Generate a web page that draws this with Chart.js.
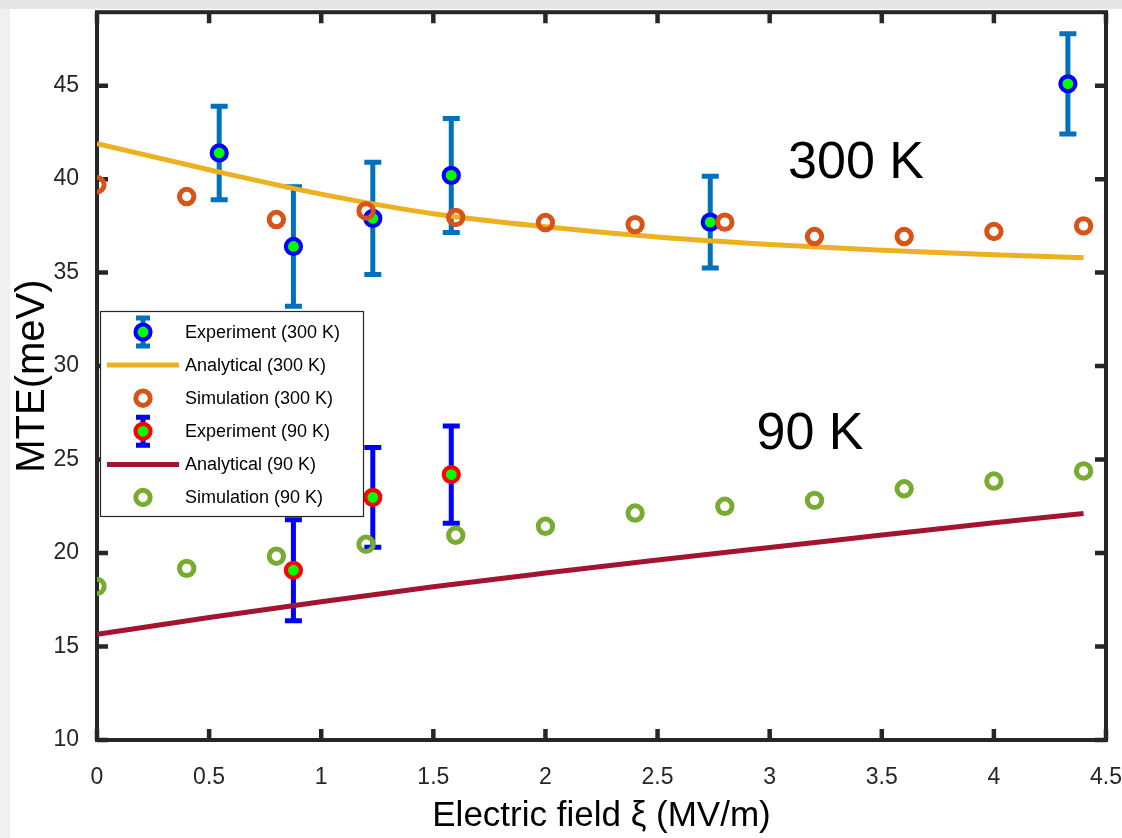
<!DOCTYPE html>
<html>
<head>
<meta charset="utf-8">
<script src="https://cdn.jsdelivr.net/npm/chart.js@4.4.1/dist/chart.umd.min.js"></script>
<style>
html,body{margin:0;padding:0;background:#fff;}
canvas{display:block;}
</style>
</head>
<body>
<canvas id="c" width="1122" height="838"></canvas>
<script>
// ---------- data ----------
const fieldExp300 = [0.545, 0.876, 1.23, 1.58, 2.735, 4.33];
const mteExp300   = [41.4, 36.4, 37.9, 40.2, 37.7, 45.1];
const errExp300   = [2.5, 3.2, 3.0, 3.05, 2.45, 2.68];

const fieldAnalytical  = [0, 0.5, 1, 1.5, 2, 2.5, 3, 3.5, 4, 4.4];
const mteAnalytical300 = [41.9, 40.5, 39.2, 38.15, 37.45, 36.9, 36.5, 36.2, 35.95, 35.8];
const mteAnalytical90  = [15.65, 16.55, 17.4, 18.2, 18.93, 19.63, 20.3, 20.96, 21.62, 22.12];

const fieldSim  = [0, 0.4, 0.8, 1.2, 1.6, 2.0, 2.4, 2.8, 3.2, 3.6, 4.0, 4.4];
const mteSim300 = [39.7, 39.07, 37.84, 38.3, 37.95, 37.68, 37.57, 37.7, 36.93, 36.93, 37.2, 37.5];
const mteSim90  = [18.22, 19.18, 19.83, 20.47, 20.95, 21.43, 22.14, 22.5, 22.82, 23.44, 23.85, 24.39];

const fieldExp90 = [0.876, 1.23, 1.58];
const mteExp90   = [19.08, 22.98, 24.2];
const errExp90   = [2.7, 2.67, 2.6];

const xTickValues = [0, 0.5, 1, 1.5, 2, 2.5, 3, 3.5, 4, 4.5];
const yTickValues = [10, 15, 20, 25, 30, 35, 40, 45];

const seriesLabels = ['Experiment (300 K)', 'Analytical (300 K)', 'Simulation (300 K)',
                      'Experiment (90 K)', 'Analytical (90 K)', 'Simulation (90 K)'];
const annotations = [{text: '300 K', x: 3.385, y: 40.85}, {text: '90 K', x: 3.18, y: 26.35}];

// ---------- helpers ----------
const pts = (xs, ys) => xs.map((x, i) => ({x: x, y: ys[i]}));
const FONT = '"Liberation Sans", Arial, Helvetica, sans-serif';
const AXIS_COLOR = '#262626';

const C = {
  exp300Bar: '#0072BD', exp90Bar: '#0000FF',
  expFill: '#00FF00', exp300Edge: '#0000FF', exp90Edge: '#FF0000',
  ana300: '#EDB120', sim300: '#D95319', ana90: '#A2142F', sim90: '#77AC30'
};

function drawErrorBar(ctx, x, yTop, yBot, capHalf, width, color) {
  ctx.save();
  ctx.strokeStyle = color;
  ctx.lineWidth = width;
  ctx.lineCap = 'butt';
  ctx.beginPath();
  ctx.moveTo(x, yTop); ctx.lineTo(x, yBot);
  ctx.moveTo(x - capHalf, yTop); ctx.lineTo(x + capHalf, yTop);
  ctx.moveTo(x - capHalf, yBot); ctx.lineTo(x + capHalf, yBot);
  ctx.stroke();
  ctx.restore();
}
function drawCircle(ctx, x, y, r, lw, stroke, fill) {
  ctx.save();
  ctx.beginPath();
  ctx.arc(x, y, r, 0, Math.PI * 2);
  ctx.fillStyle = fill; ctx.fill();
  ctx.lineWidth = lw; ctx.strokeStyle = stroke; ctx.stroke();
  ctx.restore();
}

// ---------- plugins ----------
const backgroundPlugin = {
  id: 'bg',
  beforeDraw(chart) {
    const ctx = chart.ctx;
    ctx.save();
    ctx.fillStyle = '#ffffff';
    ctx.fillRect(0, 0, chart.width, chart.height);
    ctx.fillStyle = '#f0f0f0';
    ctx.fillRect(0, 0, 10, chart.height);
    ctx.fillStyle = '#e6e6e6';
    ctx.fillRect(0, 0, chart.width, 9);
    ctx.restore();
  }
};

const framePlugin = {
  id: 'frame',
  beforeDatasetsDraw(chart) {
    const {ctx, chartArea: a, scales: {x, y}} = chart;
    ctx.save();
    ctx.strokeStyle = AXIS_COLOR;
    ctx.lineWidth = 4;
    ctx.strokeRect(a.left, a.top, a.right - a.left, a.bottom - a.top);
    ctx.lineWidth = 4.5;
    ctx.beginPath();
    xTickValues.forEach(v => {
      const px = x.getPixelForValue(v);
      ctx.moveTo(px, a.bottom); ctx.lineTo(px, a.bottom - 11);
      ctx.moveTo(px, a.top); ctx.lineTo(px, a.top + 11);
    });
    yTickValues.forEach(v => {
      const py = y.getPixelForValue(v);
      ctx.moveTo(a.left, py); ctx.lineTo(a.left + 11, py);
      ctx.moveTo(a.right, py); ctx.lineTo(a.right - 11, py);
    });
    ctx.stroke();
    ctx.restore();
  }
};

const errorBarPlugin = {
  id: 'errorbars',
  beforeDatasetDraw(chart, args) {
    const ds = chart.data.datasets[args.index];
    if (!ds.errors) return;
    const {ctx, scales: {x, y}} = chart;
    ds.data.forEach((p, i) => {
      const e = ds.errors[i];
      drawErrorBar(ctx, x.getPixelForValue(p.x), y.getPixelForValue(p.y + e),
                   y.getPixelForValue(p.y - e), 8.5, 5, ds.errorColor);
    });
  }
};

const annotationPlugin = {
  id: 'annot',
  afterDatasetsDraw(chart) {
    const {ctx, scales: {x, y}} = chart;
    ctx.save();
    ctx.font = '52px ' + FONT;
    ctx.fillStyle = '#000';
    ctx.textAlign = 'center';
    ctx.textBaseline = 'middle';
    annotations.forEach(a => ctx.fillText(a.text, x.getPixelForValue(a.x), y.getPixelForValue(a.y)));
    ctx.restore();
  }
};

const legendPlugin = {
  id: 'customLegend',
  afterDraw(chart) {
    const ctx = chart.ctx;
    const box = {x: 100, y: 311, w: 263, h: 205};
    ctx.save();
    ctx.fillStyle = '#fff';
    ctx.fillRect(box.x, box.y, box.w, box.h);
    ctx.strokeStyle = '#262626';
    ctx.lineWidth = 1.2;
    ctx.strokeRect(box.x + 0.5, box.y + 0.5, box.w, box.h);
    const rowY = i => box.y + 21 + i * 33.1;
    const sx = 143;
    chart.data.datasets.forEach((ds, i) => {
      const cy = rowY(i);
      if (ds.kind === 'exp') {
        drawErrorBar(ctx, sx, cy - 14, cy + 14, 7, 5, ds.errorColor);
        drawCircle(ctx, sx, cy, ds.pointRadius, ds.pointBorderWidth, ds.pointBorderColor, ds.pointBackgroundColor);
      } else if (ds.kind === 'line') {
        ctx.save();
        ctx.strokeStyle = ds.borderColor; ctx.lineWidth = 5;
        ctx.beginPath(); ctx.moveTo(107, cy); ctx.lineTo(179, cy); ctx.stroke();
        ctx.restore();
      } else {
        drawCircle(ctx, sx, cy, ds.pointRadius, ds.pointBorderWidth, ds.pointBorderColor, '#fff');
      }
      ctx.fillStyle = '#000';
      ctx.font = '18px ' + FONT;
      ctx.textAlign = 'left';
      ctx.textBaseline = 'middle';
      ctx.fillText(ds.label, 185, cy + 1);
    });
    ctx.restore();
  }
};

// ---------- datasets ----------
const datasets = [
  {label: seriesLabels[0], kind: 'exp', data: pts(fieldExp300, mteExp300), errors: errExp300,
   errorColor: C.exp300Bar, showLine: false, pointRadius: 7.5, pointBorderWidth: 4.2,
   pointBorderColor: C.exp300Edge, pointBackgroundColor: C.expFill, order: 6},
  {label: seriesLabels[1], kind: 'line', data: pts(fieldAnalytical, mteAnalytical300),
   showLine: true, borderColor: C.ana300, borderWidth: 5, pointRadius: 0,
   cubicInterpolationMode: 'monotone', order: 5},
  {label: seriesLabels[2], kind: 'sim', data: pts(fieldSim, mteSim300), showLine: false,
   pointRadius: 7.2, pointBorderWidth: 5, pointBorderColor: C.sim300,
   pointBackgroundColor: 'rgba(255,255,255,0)', order: 4},
  {label: seriesLabels[3], kind: 'exp', data: pts(fieldExp90, mteExp90), errors: errExp90,
   errorColor: C.exp90Bar, showLine: false, pointRadius: 7.5, pointBorderWidth: 4.2,
   pointBorderColor: C.exp90Edge, pointBackgroundColor: C.expFill, order: 3},
  {label: seriesLabels[4], kind: 'line', data: pts(fieldAnalytical, mteAnalytical90),
   showLine: true, borderColor: C.ana90, borderWidth: 5, pointRadius: 0,
   cubicInterpolationMode: 'monotone', order: 2},
  {label: seriesLabels[5], kind: 'sim', data: pts(fieldSim, mteSim90), showLine: false,
   pointRadius: 7.2, pointBorderWidth: 5, pointBorderColor: C.sim90,
   pointBackgroundColor: 'rgba(255,255,255,0)', order: 1}
];

new Chart(document.getElementById('c'), {
  type: 'scatter',
  data: {datasets: datasets},
  plugins: [backgroundPlugin, framePlugin, errorBarPlugin, annotationPlugin, legendPlugin],
  options: {
    responsive: false,
    animation: false,
    devicePixelRatio: 1,
    layout: {padding: {left: 0, top: 11, right: 16, bottom: 0}},
    plugins: {legend: {display: false}, tooltip: {enabled: false}},
    elements: {point: {hoverRadius: 7}},
    scales: {
      x: {
        type: 'linear', position: 'bottom', min: 0, max: 4.5,
        grid: {display: false}, border: {display: false},
        afterBuildTicks: s => { s.ticks = xTickValues.map(v => ({value: v})); },
        afterFit: s => { s.height = 98; s.paddingLeft = 0; s.paddingRight = 0; },
        ticks: {color: AXIS_COLOR, font: {family: FONT, size: 23}, padding: 16,
                maxRotation: 0, callback: v => String(v)},
        title: {display: true, text: 'Electric field ξ (MV/m)', color: '#000',
                font: {family: FONT, size: 35}, padding: {top: 0, bottom: 1}}
      },
      y: {
        type: 'linear', position: 'left', min: 10, max: 48.93,
        grid: {display: false}, border: {display: false},
        afterBuildTicks: s => { s.ticks = yTickValues.map(v => ({value: v})); },
        afterFit: s => { s.width = 97; s.paddingTop = 0; s.paddingBottom = 0; },
        ticks: {color: AXIS_COLOR, font: {family: FONT, size: 23}, padding: 10,
                callback: v => String(v)},
        title: {display: true, text: 'MTE(meV)', color: '#000',
                font: {family: FONT, size: 40}, padding: {top: 9, bottom: 0}}
      }
    }
  }
});
</script>
</body>
</html>
